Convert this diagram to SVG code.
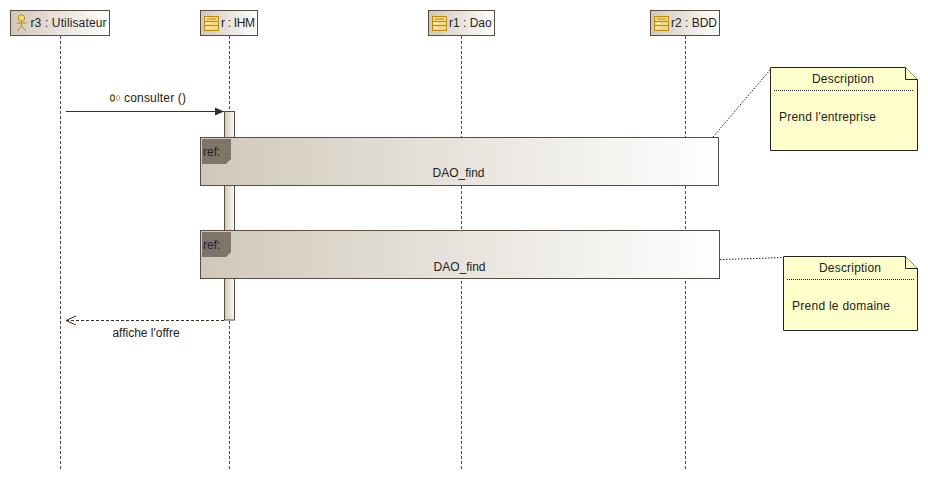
<svg xmlns="http://www.w3.org/2000/svg" width="928" height="480" viewBox="0 0 928 480">
<style>
text{font-family:"Liberation Sans",Arial,sans-serif;font-size:12px;fill:#222}
.c{text-anchor:middle}
.box{stroke:#5a4c40;stroke-width:1;fill:url(#g)}
.life{stroke:#5a4c40;stroke-width:1;stroke-dasharray:3 2;fill:none}
.note{fill:#ffffcc;stroke:#222;stroke-width:1}
.dot{stroke:#222;stroke-width:1;stroke-dasharray:1 1;fill:none}
.lnk{stroke:#222;stroke-width:1;stroke-dasharray:1.5 1.5;fill:none}
.ref{stroke:#5a4c40;stroke-width:1;fill:url(#g)}
.tab{fill:#7d756a;stroke:none}
.cls{fill:#f6d987;stroke:#bd8a0c;stroke-width:1}
</style>
<defs>
<linearGradient id="g" x1="0" y1="0" x2="1" y2="0"><stop offset="0" stop-color="#d0c8ba"/><stop offset="1" stop-color="#fff"/></linearGradient>
<linearGradient id="ga" x1="0" y1="0" x2="1" y2="0"><stop offset="0" stop-color="#d0c8ba"/><stop offset="1" stop-color="#fbfaf8"/></linearGradient>
<symbol id="cl" width="16" height="16" overflow="visible">
<rect class="cls" x="0.5" y="0.5" width="14" height="14"/>
<path d="M0.5 5.5H14.5M0.5 9.5H14.5" stroke="#bd8a0c" fill="none"/>
<path d="M3 3H12" stroke="#bd8a0c" fill="none"/>
<path d="M2 7.5H6M2 12H5" stroke="#fff" fill="none"/>
</symbol>
<marker id="solid" markerUnits="userSpaceOnUse" markerWidth="10" markerHeight="10" refX="9" refY="5" orient="auto"><path d="M0 1L9 5L0 9Z" fill="#3a2e26"/></marker>
<marker id="open" markerUnits="userSpaceOnUse" markerWidth="12" markerHeight="12" refX="11" refY="6" orient="auto"><path d="M1 1.5L11 6L1 10.5" fill="none" stroke="#3a2e26"/></marker>
</defs>
<rect width="928" height="480" fill="#fff"/>
<g id="connectors">
<path class="life" d="M60.5 36V470"/>
<path class="life" d="M229.5 36V470"/>
<path class="life" d="M461.5 36V470"/>
<path class="life" d="M685.5 36V470"/>
<path d="M66 111.5H224" stroke="#3a2e26" fill="none" marker-end="url(#solid)"/>
<path d="M224 320.5H66" stroke="#3a2e26" stroke-dasharray="3 2" fill="none" marker-end="url(#open)"/>
<path class="lnk" d="M713 137L770 70"/>
<path class="lnk" d="M720 259.5L756 258.5L783 257.5"/>
</g>
<g id="message-labels">
<text x="124" y="102" textLength="62" lengthAdjust="spacing">consulter ()</text>
<g id="op-icon"><ellipse cx="112.5" cy="98" rx="2" ry="3" fill="none" stroke="#8a5a1e" stroke-width="1.4"/><ellipse cx="118" cy="98" rx="1.6" ry="2.6" fill="none" stroke="#b08a5a" stroke-width="0.8"/></g>
<text class="c" x="146" y="337">affiche l'offre</text>
</g>
<g id="activation"><rect x="224.5" y="111.5" width="10" height="208.5" fill="url(#ga)" stroke="#5a4c40"/></g>
<g id="r3">
<rect class="box" x="10.5" y="10.5" width="99" height="25"/>
<g fill="none" stroke="#bd8a0c"><circle cx="21.5" cy="18" r="3.2" fill="#f6d987"/><path d="M21.5 21V26M16.5 23H26.5M21.5 26L17 31M21.5 26L26 31"/></g>
<text x="30.5" y="27" textLength="76" lengthAdjust="spacing">r3 : Utilisateur</text>
</g>
<g id="r">
<rect class="box" x="200.5" y="10.5" width="57" height="25"/>
<use href="#cl" x="204" y="16"/>
<text x="221" y="27" textLength="34" lengthAdjust="spacing">r : IHM</text>
</g>
<g id="r1">
<rect class="box" x="428.5" y="10.5" width="66" height="25"/>
<use href="#cl" x="432" y="16"/>
<text x="449" y="27">r1 : Dao</text>
</g>
<g id="r2">
<rect class="box" x="650.5" y="10.5" width="69" height="25"/>
<use href="#cl" x="654" y="16"/>
<text x="671" y="27">r2 : BDD</text>
</g>
<g id="ref1">
<rect class="ref" x="200.5" y="137.5" width="518" height="48"/>
<path class="tab" d="M202 139H231V159L226 164H202Z"/>
<text x="203" y="156">ref:</text>
<text class="c" x="458.500" y="177">DAO_find</text>
</g>
<g id="ref2">
<rect class="ref" x="200.5" y="230.5" width="519" height="48"/>
<path class="tab" d="M202 232H231V252L226 257H202Z"/>
<text x="203" y="249">ref:</text>
<text class="c" x="459.500" y="271">DAO_find</text>
</g>
<g id="note1">
<path class="note" d="M770.5 67.5H905.5L917.5 79.500V150.5H770.5Z"/>
<path class="note" d="M905.5 67.5V79.500H917.5"/>
<path class="dot" d="M774 90.5H913"/>
<text x="812" y="83" textLength="62" lengthAdjust="spacing">Description</text>
<text x="779" y="121" textLength="97" lengthAdjust="spacing">Prend l'entreprise</text>
</g>
<g id="note2">
<path class="note" d="M783.5 256.5H905.5L917.5 268.5V330.5H783.5Z"/>
<path class="note" d="M905.5 256.5V268.5H917.5"/>
<path class="dot" d="M787 279.5H914"/>
<text x="819" y="272" textLength="62" lengthAdjust="spacing">Description</text>
<text x="792" y="310" textLength="98" lengthAdjust="spacing">Prend le domaine</text>
</g>
</svg>
